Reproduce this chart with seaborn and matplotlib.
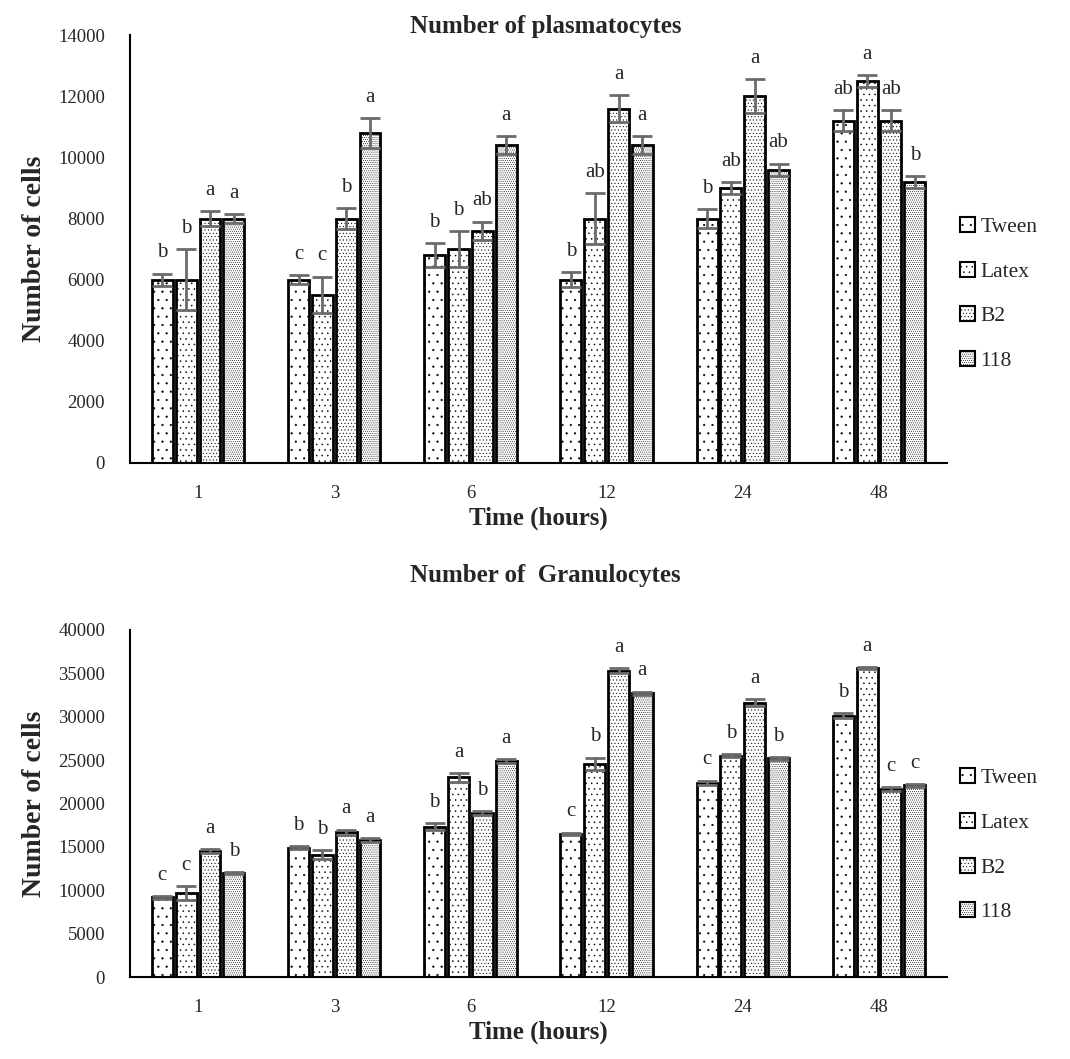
import numpy as np
import pandas as pd
import matplotlib
matplotlib.use("Agg")
import matplotlib.pyplot as plt
import seaborn as sns
from matplotlib.patches import Patch

sns.set_style("white")
plt.rcParams['font.family'] = ['Liberation Serif', 'DejaVu Serif']
plt.rcParams['hatch.linewidth'] = 0.35

# data
times = ["1", "3", "6", "12", "24", "48"]
groups = ["Tween", "Latex", "B2", "118"]

plasma_tween = [6000, 6000, 6800, 6000, 8000, 11200]
plasma_latex = [6000, 5500, 7000, 8000, 9000, 12500]
plasma_b2 = [8000, 8000, 7600, 11600, 12000, 11200]
plasma_118 = [8000, 10800, 10400, 10400, 9600, 9200]

plasma_err_tween = [200, 150, 400, 250, 300, 350]
plasma_err_latex = [1000, 600, 600, 820, 200, 200]
plasma_err_b2 = [250, 350, 300, 450, 550, 350]
plasma_err_118 = [150, 500, 300, 300, 200, 200]

plasma_let_tween = ["b", "c", "b", "b", "b", "ab"]
plasma_let_latex = ["b", "c", "b", "ab", "ab", "a"]
plasma_let_b2 = ["a", "b", "ab", "a", "a", "ab"]
plasma_let_118 = ["a", "a", "a", "a", "ab", "b"]

gran_tween = [9200, 14900, 17300, 16500, 22400, 30100]
gran_latex = [9700, 14100, 23000, 24600, 25500, 35600]
gran_b2 = [14500, 16700, 18900, 35300, 31600, 21700]
gran_118 = [12000, 15800, 24900, 32700, 25200, 22100]

gran_err_tween = [150, 150, 400, 150, 250, 300]
gran_err_latex = [800, 500, 500, 700, 150, 150]
gran_err_b2 = [250, 300, 200, 300, 400, 200]
gran_err_118 = [150, 250, 200, 200, 150, 150]

gran_let_tween = ["c", "b", "b", "c", "c", "b"]
gran_let_latex = ["c", "b", "a", "b", "b", "a"]
gran_let_b2 = ["a", "a", "b", "a", "a", "c"]
gran_let_118 = ["b", "a", "a", "a", "b", "c"]

hatches = ["..", "...", ".....", "........"]


def draw_panel(ax, vals, errs, lets, leg_y, ymax, ystep):
    df = pd.DataFrame({
        "Time": times * 4,
        "Group": np.repeat(groups, len(times)),
        "Cells": np.concatenate(vals),
    })
    sns.barplot(data=df, x="Time", y="Cells", hue="Group", order=times,
                hue_order=groups, palette=["white"] * 4, edgecolor="black",
                linewidth=2, width=0.7, gap=0.12, errorbar=None, legend=False, ax=ax)
    for cont, h, e, lt in zip(ax.containers, hatches, errs, lets):
        xs = []
        for bar in cont:
            bar.set_hatch(h)
            xs.append(bar.get_x() + bar.get_width() / 2)
        ys = [bar.get_height() for bar in cont]
        ax.errorbar(xs, ys, yerr=e, fmt="none", ecolor="#6b6b6b",
                    elinewidth=2, capsize=7, capthick=2, zorder=5)
        for x, y, err, t in zip(xs, ys, e, lt):
            ax.annotate(t, (x, y + err), xytext=(0, 8), textcoords="offset points",
                        ha="center", va="bottom", fontsize=15)
    ax.set_ylim(0, ymax)
    ax.set_yticks(np.arange(0, ymax + 1, ystep))
    ax.set_xlim(-0.5, 5.5)
    ax.tick_params(axis="both", length=0, labelsize=13.5, pad=16)
    ax.tick_params(axis="y", pad=18)
    ax.set_xlabel("Time (hours)", fontsize=18, fontweight="bold", labelpad=3)
    ax.set_ylabel("Number of cells", fontsize=20, fontweight="bold", labelpad=8)
    for s in ["top", "right"]:
        ax.spines[s].set_visible(False)
    for s in ["left", "bottom"]:
        ax.spines[s].set_color("black")
        ax.spines[s].set_linewidth(1.5)
    handles = [Patch(facecolor="white", edgecolor="black", hatch=h, linewidth=1.5)
               for h in hatches]
    ax.legend(handles, groups, loc="center left", bbox_to_anchor=(1.0, leg_y),
              frameon=False, fontsize=15.5, handlelength=0.7, handleheight=0.7,
              handletextpad=0.25, labelspacing=1.15, borderaxespad=0.2)


fig = plt.figure(figsize=(10.7, 10.59), dpi=100)
ax1 = fig.add_axes([0.1215, 0.5628, 0.7636, 0.404])
ax2 = fig.add_axes([0.1215, 0.0774, 0.7636, 0.3277])

draw_panel(ax1, [plasma_tween, plasma_latex, plasma_b2, plasma_118],
           [plasma_err_tween, plasma_err_latex, plasma_err_b2, plasma_err_118],
           [plasma_let_tween, plasma_let_latex, plasma_let_b2, plasma_let_118],
           0.395, 14000, 2000)
draw_panel(ax2, [gran_tween, gran_latex, gran_b2, gran_118],
           [gran_err_tween, gran_err_latex, gran_err_b2, gran_err_118],
           [gran_let_tween, gran_let_latex, gran_let_b2, gran_let_118],
           0.38, 40000, 5000)

fig.text(0.51, 0.975, "Number of plasmatocytes", ha="center", va="center",
         fontsize=18, fontweight="bold")
fig.text(0.51, 0.457, "Number of  Granulocytes", ha="center", va="center",
         fontsize=18, fontweight="bold")

fig.savefig("out.png", dpi=100, facecolor="white")
